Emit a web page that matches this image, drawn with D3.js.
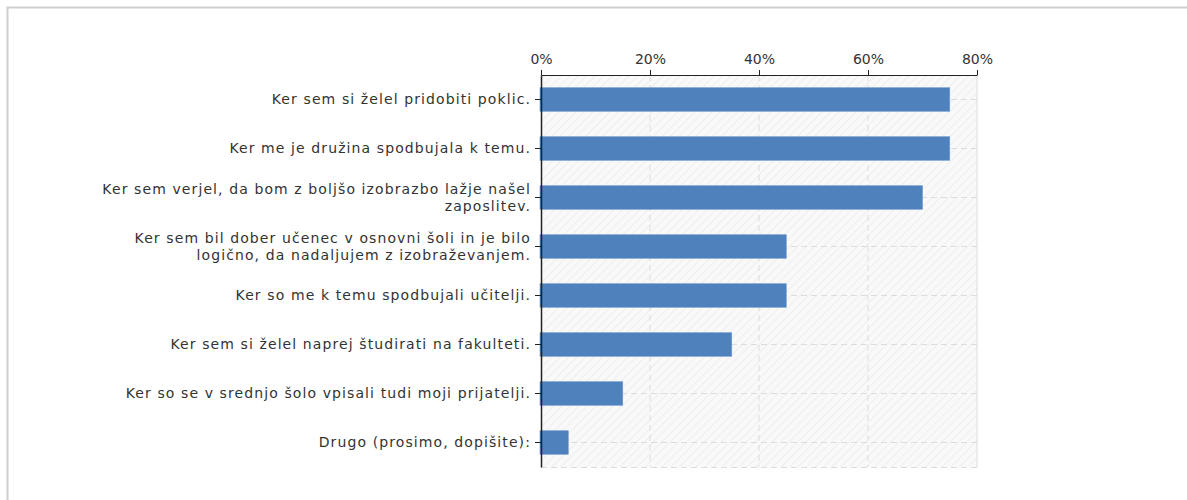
<!DOCTYPE html>
<html><head><meta charset="utf-8">
<script src="https://cdn.jsdelivr.net/npm/d3@7"></script>
<style>
html,body{margin:0;padding:0;background:#fff;}
svg{display:block;}
</style></head>
<body>
<svg id="c" width="1187" height="500"></svg>
<script>
const categories = [
  ["Ker sem si želel pridobiti poklic."],
  ["Ker me je družina spodbujala k temu."],
  ["Ker sem verjel, da bom z boljšo izobrazbo lažje našel", "zaposlitev."],
  ["Ker sem bil dober učenec v osnovni šoli in je bilo", "logično, da nadaljujem z izobraževanjem."],
  ["Ker so me k temu spodbujali učitelji."],
  ["Ker sem si želel naprej študirati na fakulteti."],
  ["Ker so se v srednjo šolo vpisali tudi moji prijatelji."],
  ["Drugo (prosimo, dopišite):"]
];
const values = [75, 75, 70, 45, 45, 35, 15, 5];
const ticks = [0, 20, 40, 60, 80];

const svg = d3.select("#c");
const font = "DejaVu Sans, Verdana, sans-serif";

// panel border
svg.append("path").attr("d","M7.5,500 L7.5,7.5 L1187,7.5")
  .attr("fill","none").attr("stroke","#d0d0d0").attr("stroke-width",2);

const L = 541, R = 977, T = 75, B = 467;
const x = d3.scaleLinear().domain([0, 80]).range([L, R]);
const y = d3.scaleBand().domain(d3.range(categories.length)).range([T, B]).paddingInner(0.52).paddingOuter(0.26);

const defs = svg.append("defs");
const pat = defs.append("pattern").attr("id","hatch").attr("patternUnits","userSpaceOnUse")
  .attr("width",6).attr("height",6).attr("patternTransform","rotate(45)");
pat.append("rect").attr("width",6).attr("height",6).attr("fill","#f9f9f9");
pat.append("line").attr("x1",0).attr("y1",0).attr("x2",0).attr("y2",6).attr("stroke","#ebebeb").attr("stroke-width",1.5);

svg.append("rect").attr("x",L).attr("y",T).attr("width",R-L).attr("height",B-T).attr("fill","url(#hatch)");

// gridlines
const g = svg.append("g");
g.selectAll("line.v").data(ticks.slice(1)).join("line")
  .attr("x1",d=>x(d)).attr("x2",d=>x(d)).attr("y1",T).attr("y2",B)
  .attr("stroke","#dcdcdc").attr("stroke-dasharray", d=> d===80 ? null : "6,4").attr("stroke-width",1);
g.selectAll("line.h").data(d3.range(categories.length)).join("line")
  .attr("x1",L).attr("x2",R).attr("y1",d=>y(d)+y.bandwidth()/2).attr("y2",d=>y(d)+y.bandwidth()/2)
  .attr("stroke","#dcdcdc").attr("stroke-dasharray","6,4");
svg.append("line").attr("x1",L).attr("x2",R).attr("y1",B+0.5).attr("y2",B+0.5).attr("stroke","#dcdcdc").attr("stroke-dasharray","6,4");

// bars
svg.selectAll("rect.bar").data(values).join("rect").attr("class","bar")
  .attr("x",x(0)-1).attr("y",(d,i)=>y(i)).attr("width",d=>x(d)-x(0)+1).attr("height",y.bandwidth())
  .attr("fill","#4f81bd").attr("stroke","#6a96cc").attr("stroke-width",0.6);

// top axis
const xa = svg.append("g").attr("transform",`translate(0,${T})`)
  .call(d3.axisTop(x).tickValues(ticks).tickFormat(d=>d+"%").tickSize(5).tickSizeOuter(0));
xa.select(".domain").attr("stroke","#222");
xa.selectAll(".tick line").attr("stroke","#222");
xa.selectAll("text").attr("font-family",font).attr("font-size",14).attr("fill","#333").attr("dy","-0.2em");

// left axis
const ya = svg.append("g").attr("transform",`translate(${L},0)`)
  .call(d3.axisLeft(y).tickSize(6).tickSizeOuter(0).tickFormat(""));
ya.select(".domain").attr("stroke","#222").attr("stroke-width",1.5);
ya.selectAll(".tick line").attr("stroke","#222");
ya.selectAll(".tick").each(function(d){
  const lines = categories[d];
  const t = d3.select(this).append("text").attr("x",-10).attr("text-anchor","end")
    .attr("font-family",font).attr("font-size",14).attr("letter-spacing","1.1px").attr("fill","#333");
  const lh = 17;
  lines.forEach((s,k)=>{
    t.append("tspan").attr("x",-10).attr("y", (k-(lines.length-1)/2)*lh).attr("dy","0.35em").text(s);
  });
});
</script>
</body></html>
